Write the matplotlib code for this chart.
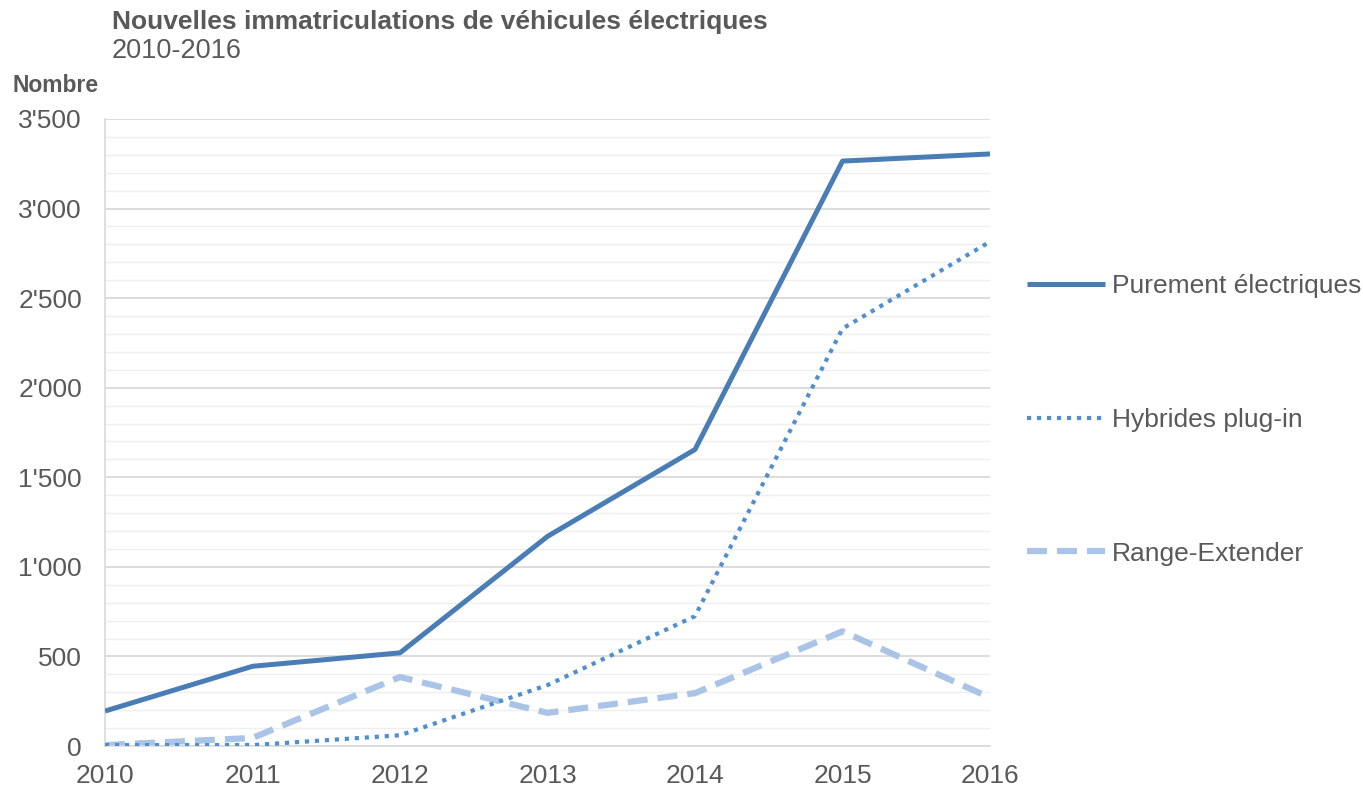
import matplotlib
matplotlib.use("Agg")
import matplotlib.pyplot as plt
from matplotlib.ticker import MultipleLocator, FuncFormatter

plt.rcParams["font.family"] = ["Liberation Sans", "DejaVu Sans"]

years = [2010, 2011, 2012, 2013, 2014, 2015, 2016]
purement = [195, 445, 520, 1170, 1655, 3265, 3305]
hybrides = [5, 5, 60, 340, 725, 2330, 2815]
range_ext = [5, 45, 385, 185, 295, 640, 270]

GREY = "#595959"

fig = plt.figure(figsize=(13.63, 7.90), dpi=100)
ax = fig.add_axes([105 / 1363, 44 / 790, 885 / 1363, 627 / 790])

l1, = ax.plot(years, purement, color="#4a7db5", lw=3.6, solid_capstyle="butt",
              label="Purement électriques", zorder=4)
l2, = ax.plot(years, hybrides, color="#4f8fd0", lw=3.0,
              ls=(0, (1, 1.4)), label="Hybrides plug-in", zorder=3)
l3, = ax.plot(years, range_ext, color="#a9c4e6", lw=4.5,
              ls=(0, (3.2, 1.6)), label="Range-Extender", zorder=2)

ax.set_xlim(2010, 2016)
ax.set_ylim(0, 3500)
ax.yaxis.set_major_locator(MultipleLocator(500))
ax.yaxis.set_minor_locator(MultipleLocator(100))
ax.yaxis.set_major_formatter(FuncFormatter(lambda v, p: f"{int(v):,}".replace(",", "'")))
ax.set_xticks(years)

ax.grid(True, which="major", axis="y", color="#d9d9d9", lw=1.3, zorder=0)
ax.grid(True, which="minor", axis="y", color="#efefef", lw=1.0, zorder=0)
ax.set_axisbelow(True)

for s in ["top", "right"]:
    ax.spines[s].set_visible(False)
ax.spines["left"].set_color("#d9d9d9")
ax.spines["bottom"].set_color("#d9d9d9")
ax.spines["left"].set_linewidth(1.2)
ax.spines["bottom"].set_linewidth(1.2)

ax.tick_params(axis="both", which="both", length=0, labelsize=19, colors=GREY)
ax.tick_params(axis="y", pad=16.5)
ax.tick_params(axis="x", pad=13)

fig.text(112 / 1363, 1 - 22 / 790, "Nouvelles immatriculations de véhicules électriques",
         fontsize=19, fontweight="bold", color=GREY, va="center", ha="left")
fig.text(112 / 1363, 1 - 51 / 790, "2010-2016",
         fontsize=19.5, color=GREY, va="center", ha="left")
fig.text(12 / 1363, 1 - 86 / 790, "Nombre",
         fontsize=16.5, fontweight="bold", color=GREY, va="center", ha="left")

ax.legend(handles=[l1, l2, l3], loc="center left",
          bbox_to_anchor=(1027 / 1363, 1 - 420 / 790), bbox_transform=fig.transFigure,
          frameon=False, fontsize=19, labelcolor=GREY, labelspacing=4.15,
          handlelength=2.95, handletextpad=0.27, borderpad=0, borderaxespad=0)

fig.savefig("out.png", dpi=100)
